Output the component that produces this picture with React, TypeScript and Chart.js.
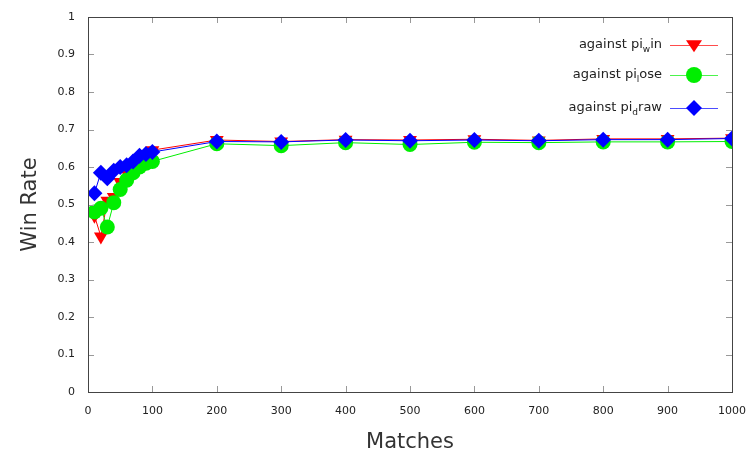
import React, { useEffect, useRef } from "react";
import { Chart, registerables } from "chart.js";

Chart.register(...registerables);

const matches = [10, 20, 30, 40, 50, 60, 70, 80, 90, 100, 200, 300, 400, 500, 600, 700, 800, 900, 1000];
const againstWin = [0.47, 0.415, 0.51, 0.52, 0.56, 0.585, 0.605, 0.62, 0.635, 0.645, 0.672, 0.668, 0.673, 0.672, 0.674, 0.671, 0.675, 0.675, 0.677];
const againstLose = [0.48, 0.49, 0.44, 0.505, 0.54, 0.565, 0.585, 0.6, 0.61, 0.615, 0.662, 0.657, 0.665, 0.66, 0.666, 0.665, 0.667, 0.667, 0.668];
const againstDraw = [0.53, 0.585, 0.57, 0.59, 0.6, 0.605, 0.615, 0.63, 0.635, 0.64, 0.668, 0.667, 0.672, 0.67, 0.672, 0.67, 0.673, 0.673, 0.676];

// legend label parts: [prefix, subscript, suffix]
const legendLabels: [string, string, string][] = [
  ["against pi", "w", "in"],
  ["against pi", "l", "ose"],
  ["against pi", "d", "raw"],
];
const xTicks = [0, 100, 200, 300, 400, 500, 600, 700, 800, 900, 1000];
const yTicks = [0, 0.1, 0.2, 0.3, 0.4, 0.5, 0.6, 0.7, 0.8, 0.9, 1];

const FONT = "'DejaVu Sans', sans-serif";

const tickPlugin = {
  id: "innerTicks",
  afterDatasetsDraw(chart: any) {
    const { ctx, chartArea, scales } = chart;
    const { left, right, top, bottom } = chartArea;
    ctx.save();
    ctx.strokeStyle = "#999";
    ctx.lineWidth = 1;
    const len = 6;
    ctx.beginPath();
    xTicks.forEach((v) => {
      const x = Math.round(scales.x.getPixelForValue(v)) + 0.5;
      ctx.moveTo(x, bottom);
      ctx.lineTo(x, bottom - len);
      ctx.moveTo(x, top);
      ctx.lineTo(x, top + len);
    });
    yTicks.forEach((v) => {
      const y = Math.round(scales.y.getPixelForValue(v)) + 0.5;
      ctx.moveTo(left, y);
      ctx.lineTo(left + len, y);
      ctx.moveTo(right, y);
      ctx.lineTo(right - len, y);
    });
    ctx.stroke();
    ctx.strokeStyle = "#444";
    ctx.strokeRect(Math.round(left) + 0.5, Math.round(top) + 0.5, Math.round(right - left), Math.round(bottom - top));
    ctx.restore();
  },
};

const legendPlugin = {
  id: "customLegend",
  afterDraw(chart: any) {
    const { ctx } = chart;
    const ys = [45, 75, 108];
    const textRight = 662;
    ctx.save();
    chart.data.datasets.forEach((ds: any, i: number) => {
      const y = ys[i];
      const [pre, sub, suf] = legendLabels[i];
      const mainFont = `13px ${FONT}`;
      const subFont = `9px ${FONT}`;
      ctx.font = mainFont;
      const w3 = ctx.measureText(suf).width;
      const w1 = ctx.measureText(pre).width;
      ctx.font = subFont;
      const w2 = ctx.measureText(sub).width;
      let x = textRight - w1 - w2 - w3;
      ctx.fillStyle = "#222";
      ctx.textBaseline = "middle";
      ctx.textAlign = "left";
      ctx.font = mainFont;
      ctx.fillText(pre, x, y);
      x += w1;
      ctx.font = subFont;
      ctx.fillText(sub, x, y + 5);
      x += w2;
      ctx.font = mainFont;
      ctx.fillText(suf, x, y);
      // line
      ctx.strokeStyle = ds.borderColor;
      ctx.globalAlpha = 0.7;
      ctx.lineWidth = 1;
      ctx.beginPath();
      ctx.moveTo(670, y + 0.5);
      ctx.lineTo(718, y + 0.5);
      ctx.stroke();
      ctx.globalAlpha = 1;
      // marker
      ctx.fillStyle = ds.pointBackgroundColor;
      ctx.beginPath();
      const cx = 694;
      const r = 8;
      if (ds.pointStyle === "circle") {
        ctx.arc(cx, y, r, 0, Math.PI * 2);
      } else if (ds.pointStyle === "rectRot") {
        ctx.moveTo(cx, y - r);
        ctx.lineTo(cx + r, y);
        ctx.lineTo(cx, y + r);
        ctx.lineTo(cx - r, y);
        ctx.closePath();
      } else {
        ctx.moveTo(cx - r, y - r * 0.6);
        ctx.lineTo(cx + r, y - r * 0.6);
        ctx.lineTo(cx, y + r * 0.9);
        ctx.closePath();
      }
      ctx.fill();
    });
    ctx.restore();
  },
};

export default function App() {
  const ref = useRef<HTMLCanvasElement | null>(null);
  useEffect(() => {
    if (!ref.current) return;
    const mk = (arr: number[]) => matches.map((m, i) => ({ x: m, y: arr[i] }));
    const base = { pointRadius: 8, borderWidth: 1, pointBorderWidth: 0 };
    const chart = new Chart(ref.current, {
      type: "line",
      data: {
        datasets: [
          {
            ...base,
            label: "against pi_win",
            data: mk(againstWin),
            borderColor: "#ff0000",
            backgroundColor: "#ff0000",
            pointBackgroundColor: "#ff0000",
            pointBorderColor: "#ff0000",
            pointStyle: "triangle",
            rotation: 180,
            order: 3,
          } as any,
          {
            ...base,
            label: "against pi_lose",
            data: mk(againstLose),
            borderColor: "#00ee00",
            backgroundColor: "#00ee00",
            pointBackgroundColor: "#00ee00",
            pointBorderColor: "#00ee00",
            pointStyle: "circle",
            pointRadius: 7.5,
            order: 2,
          } as any,
          {
            ...base,
            label: "against pi_draw",
            data: mk(againstDraw),
            borderColor: "#0000ff",
            backgroundColor: "#0000ff",
            pointBackgroundColor: "#0000ff",
            pointBorderColor: "#0000ff",
            pointStyle: "rectRot",
            order: 1,
          } as any,
        ],
      },
      options: {
        animation: false,
        responsive: false,
        maintainAspectRatio: false,
        layout: { padding: { top: 17, right: 24, left: 18, bottom: 0 } },
        plugins: {
          legend: { display: false },
          tooltip: { enabled: false },
        },
        scales: {
          x: {
            type: "linear",
            min: 0,
            max: 1000,
            afterFit: (s: any) => {
              s.height = 67;
              s.paddingLeft = 0;
              s.paddingRight = 0;
            },
            afterBuildTicks: (s: any) => {
              s.ticks = xTicks.map((v) => ({ value: v }));
            },
            grid: { drawOnChartArea: false, drawTicks: false },
            border: { display: false },
            ticks: {
              padding: 13,
              color: "#222",
              font: { family: FONT, size: 11 },
              maxRotation: 0,
              autoSkip: false,
              callback: (v: any) => String(v),
            },
            title: {
              display: true,
              text: "Matches",
              color: "#333",
              font: { family: FONT, size: 21 },
              padding: { top: 4 },
            },
          },
          y: {
            type: "linear",
            min: 0,
            max: 1,
            afterFit: (s: any) => {
              s.width = 70;
              s.paddingTop = 0;
              s.paddingBottom = 0;
            },
            afterBuildTicks: (s: any) => {
              s.ticks = yTicks.map((v) => ({ value: v }));
            },
            grid: { drawOnChartArea: false, drawTicks: false },
            border: { display: false },
            ticks: {
              padding: 13,
              color: "#222",
              font: { family: FONT, size: 11 },
              autoSkip: false,
              callback: (v: any) => String(Math.round(Number(v) * 10) / 10),
            },
            title: {
              display: true,
              text: "Win Rate",
              color: "#333",
              font: { family: FONT, size: 21 },
              padding: { top: 0, bottom: 0 },
            },
          },
        },
      },
      plugins: [tickPlugin, legendPlugin],
    });
    return () => chart.destroy();
  }, []);
  return (
    <div style={{ position: "absolute", left: 0, top: 0, width: 756, height: 459, background: "#fff" }}>
      <canvas ref={ref} width={756} height={459} style={{ width: 756, height: 459 }} />
    </div>
  );
}
